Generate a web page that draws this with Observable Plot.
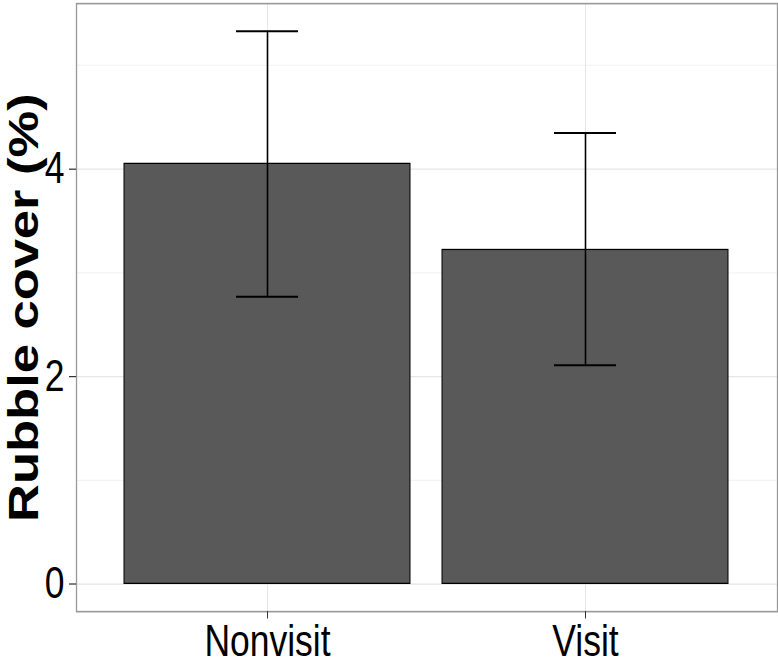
<!DOCTYPE html>
<html>
<head>
<meta charset="utf-8">
<script src="https://cdn.jsdelivr.net/npm/d3@7"></script>
<script src="https://cdn.jsdelivr.net/npm/@observablehq/plot@0.6"></script>
<style>
  html, body { margin: 0; padding: 0; background: white; }
  #chart svg { display: block; }
</style>
</head>
<body>
<div id="chart"></div>
<script>
const categories = ["Nonvisit", "Visit"];
const means = [4.05, 3.22];
const lower = [2.77, 2.11];
const upper = [5.33, 4.35];
const yTicks = [0, 2, 4];
const yMinor = [1, 3, 5];
const yTitle = "Rubble cover (%)";

const data = categories.map((c, i) => ({cat: c, mean: means[i], lo: lower[i], hi: upper[i]}));

const chart = Plot.plot({
  width: 778,
  height: 533,
  marginLeft: 76,
  marginRight: 1,
  marginTop: 2.4,
  marginBottom: 44,
  style: {fontFamily: "'Liberation Sans', Arial, sans-serif", fontSize: "35.5px", color: "black", background: "white"},
  x: {domain: categories, paddingInner: 0.1, paddingOuter: 0.15, label: null},
  y: {domain: [-0.2665, 5.5965], label: null},
  marks: [
    Plot.gridY(yMinor, {stroke: "#f4f4f4", strokeOpacity: 1}),
    Plot.gridY(yTicks, {stroke: "#e6e6e6", strokeOpacity: 1}),
    Plot.gridX(categories, {stroke: "#e6e6e6", strokeOpacity: 1}),
    Plot.barY(data, {x: "cat", y: "mean", fill: "#595959", stroke: "black", strokeWidth: 1}),
    Plot.ruleX(data, {x: "cat", y1: "lo", y2: "hi", stroke: "black", strokeWidth: 1.6}),
    Plot.tickY(data, {x: "cat", y: "lo", insetLeft: 112, insetRight: 112, stroke: "black", strokeWidth: 1.6}),
    Plot.tickY(data, {x: "cat", y: "hi", insetLeft: 112, insetRight: 112, stroke: "black", strokeWidth: 1.6}),
    Plot.frame({stroke: "#999", strokeWidth: 1.3}),
    Plot.axisY(yTicks, {tickSize: 7, tickPadding: 5, label: null, stroke: "#333", fontSize: 35.5, tickFormat: d => String(d)}),
    Plot.axisX(categories, {tickSize: 6, tickPadding: 4.5, label: null, stroke: "#333", fontSize: 35.5}),
    Plot.text([yTitle], {frameAnchor: "left", dx: -52, rotate: -90, fontWeight: "bold", fontSize: 42, textAnchor: "middle", lineAnchor: "middle", fill: "black"})
  ]
});
chart.setAttribute("preserveAspectRatio", "none");
chart.setAttribute("height", "666");
chart.style.height = "666px";
chart.style.width = "778px";
chart.style.maxWidth = "none";
document.getElementById("chart").appendChild(chart);
</script>
</body>
</html>
